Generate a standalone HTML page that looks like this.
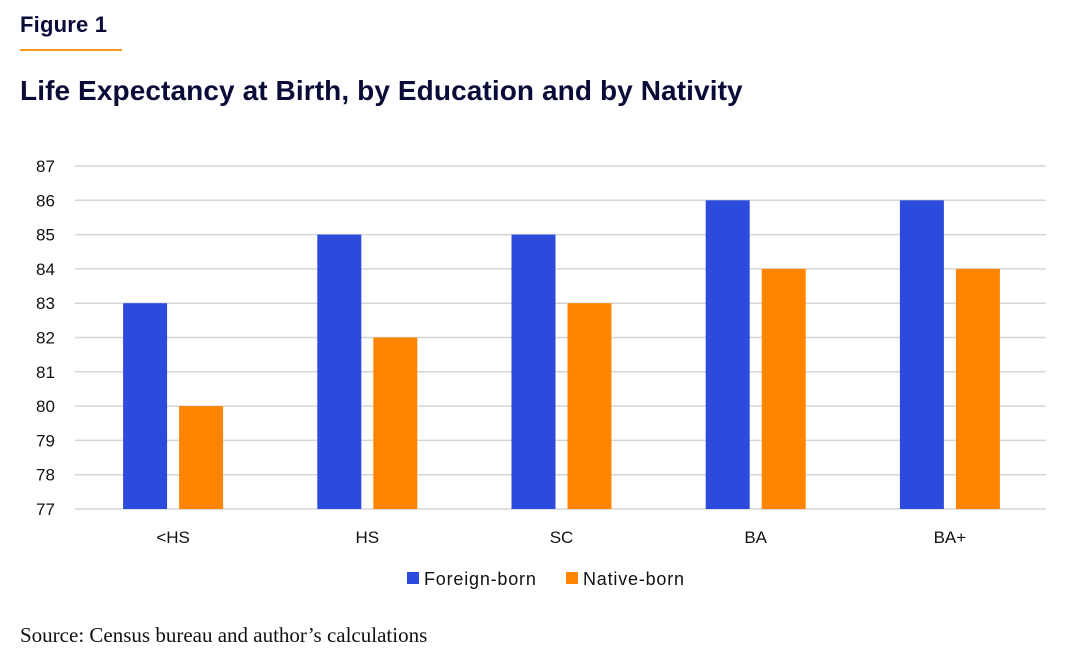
<!DOCTYPE html>
<html><head><meta charset="utf-8"><style>
body{margin:0;width:1070px;height:665px;background:#fff;overflow:hidden;font-family:"Liberation Sans",sans-serif;position:relative}
.fig{position:absolute;left:20px;top:12px;font-weight:bold;font-size:22px;color:#0b0b38;letter-spacing:0.2px}
.ul{position:absolute;left:20px;top:49px;width:102px;height:2px;background:#f39a1e}
.title{position:absolute;left:20px;top:75px;font-weight:bold;font-size:28px;color:#0b0b38;letter-spacing:0.1px}
.src{position:absolute;left:20px;top:623px;font-family:"Liberation Serif",serif;font-size:21px;color:#111}
svg{position:absolute;left:0;top:0}
</style></head><body>
<div class="fig">Figure 1</div>
<div class="ul"></div>
<div class="title">Life Expectancy at Birth, by Education and by Nativity</div>
<svg id="chart" width="1070" height="665"></svg>
<div class="src">Source: Census bureau and author’s calculations</div>
<script>
const categories=["<HS","HS","SC","BA","BA+"];
const foreignBorn=[83,85,85,86,86];
const nativeBorn=[80,82,83,84,84];
const yTicks=[77,78,79,80,81,82,83,84,85,86,87];
const seriesNames=["Foreign-born","Native-born"];
const NS="http://www.w3.org/2000/svg";
const svg=document.getElementById("chart");
const L=75,R=1046,T=166,B=509,yMin=77,yMax=87;
const y=v=>B-(v-yMin)/(yMax-yMin)*(B-T);
const band=(R-L)/categories.length;
const xc=i=>L+band*(i+0.5)+1;
function mk(tag,attrs){const e=document.createElementNS(NS,tag);for(const k in attrs)e.setAttribute(k,attrs[k]);svg.appendChild(e);return e;}
yTicks.forEach(t=>{
 const g=mk("line",{x1:L,x2:R,y1:y(t),y2:y(t),stroke:"#d6d6d6","stroke-width":1.5});
 
 
 const tx=mk("text",{x:36,y:y(t)+6,"font-size":17,fill:"#111","font-family":"Liberation Sans, sans-serif"});
 tx.textContent=t;
 
 
});
const bw=44,gap=12;
categories.forEach((c,i)=>{
 const cx=xc(i);
 const b1=mk("rect",{x:cx-gap/2-bw,y:y(foreignBorn[i]),width:bw,height:B-y(foreignBorn[i]),fill:"#2c4bdc"});
 
 
 const b2=mk("rect",{x:cx+gap/2,y:y(nativeBorn[i]),width:bw,height:B-y(nativeBorn[i]),fill:"#ff8500"});
 
 
 const tx=mk("text",{x:cx,y:543,"font-size":17,fill:"#111","text-anchor":"middle","font-family":"Liberation Sans, sans-serif"});
 tx.textContent=c;
 
 
});
const legX=[407,566],legC=["#2c4bdc","#ff8500"];
seriesNames.forEach((n,i)=>{
 const r=mk("rect",{x:legX[i],y:572,width:12,height:12,fill:legC[i]});
 
 
 const tx=mk("text",{x:legX[i]+17,y:585,"font-size":18,"letter-spacing":"0.8",fill:"#111","font-family":"Liberation Sans, sans-serif"});
 tx.textContent=n;
 
 
});
</script>
</body></html>
